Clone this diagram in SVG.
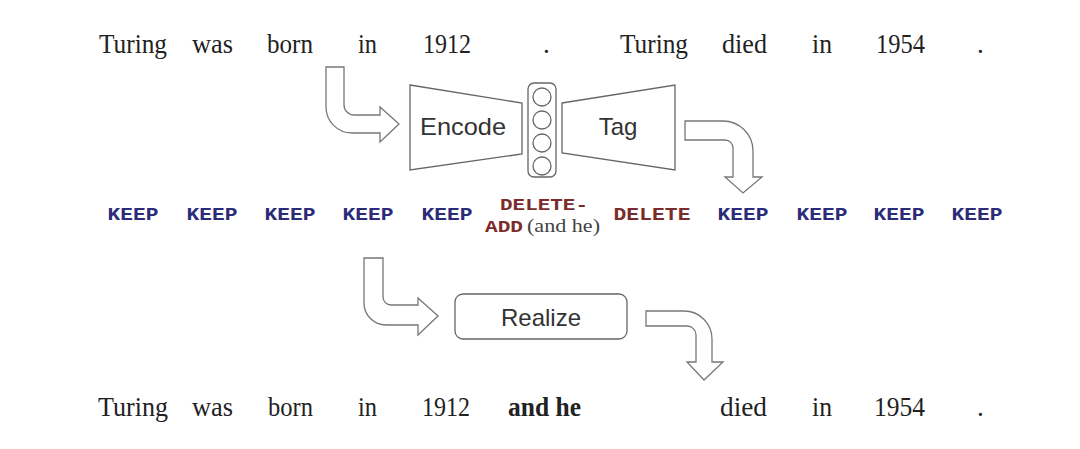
<svg xmlns="http://www.w3.org/2000/svg" width="1080" height="449" viewBox="0 0 1080 449">
<style>
.w{font-family:"Liberation Serif","Times New Roman",serif;font-size:27px;fill:#222}
.b{font-weight:bold}
.k{font-family:"Liberation Mono","Courier New",monospace;font-size:19px;font-weight:bold;fill:#2b2b78}
.d{font-family:"Liberation Mono","Courier New",monospace;font-size:19px;font-weight:bold;fill:#7a2c2c}
.d2{font-size:17px}
.p{font-family:"Liberation Serif","Times New Roman",serif;font-size:19px;fill:#444}
.lbl{font-family:"Liberation Sans",Arial,sans-serif;font-size:24px;fill:#333}
.sh{fill:#fff;stroke:#666;stroke-width:1.3}
.ar{fill:#fff;stroke:#777;stroke-width:1.3;stroke-linejoin:miter}
</style>
<rect width="1080" height="449" fill="#fff"/>
<g id="source">
<text class="w" x="99" y="53" textLength="68" lengthAdjust="spacingAndGlyphs">Turing</text>
<text class="w" x="192" y="53" textLength="41" lengthAdjust="spacingAndGlyphs">was</text>
<text class="w" x="267" y="53" textLength="46" lengthAdjust="spacingAndGlyphs">born</text>
<text class="w" x="358" y="53" textLength="19" lengthAdjust="spacingAndGlyphs">in</text>
<text class="w" x="423" y="53" textLength="48" lengthAdjust="spacingAndGlyphs">1912</text>
<text class="w" x="543" y="53">.</text>
<text class="w" x="620" y="53" textLength="68" lengthAdjust="spacingAndGlyphs">Turing</text>
<text class="w" x="722" y="53" textLength="45" lengthAdjust="spacingAndGlyphs">died</text>
<text class="w" x="812" y="53" textLength="20" lengthAdjust="spacingAndGlyphs">in</text>
<text class="w" x="876" y="53" textLength="49" lengthAdjust="spacingAndGlyphs">1954</text>
<text class="w" x="977" y="53">.</text>
</g>
<g id="encode">
<polygon class="sh" points="410,85 522,103 522,154 410,170"/>
<text class="lbl" x="420" y="135" textLength="86" lengthAdjust="spacingAndGlyphs">Encode</text>
</g>
<g id="bottleneck">
<rect class="sh" x="528" y="83" width="28" height="94" rx="6"/>
<circle class="sh" cx="542" cy="97" r="9"/>
<circle class="sh" cx="542" cy="120" r="9"/>
<circle class="sh" cx="542" cy="143" r="9"/>
<circle class="sh" cx="542" cy="166" r="9"/>
</g>
<g id="tag">
<polygon class="sh" points="562,103 675,85 675,170 562,153"/>
<text class="lbl" x="618" y="135" text-anchor="middle">Tag</text>
</g>
<g id="tags">
<text class="k" x="133" y="220" text-anchor="middle" textLength="51" lengthAdjust="spacingAndGlyphs">KEEP</text>
<text class="k" x="212" y="220" text-anchor="middle" textLength="51" lengthAdjust="spacingAndGlyphs">KEEP</text>
<text class="k" x="290" y="220" text-anchor="middle" textLength="51" lengthAdjust="spacingAndGlyphs">KEEP</text>
<text class="k" x="368" y="220" text-anchor="middle" textLength="51" lengthAdjust="spacingAndGlyphs">KEEP</text>
<text class="k" x="447" y="220" text-anchor="middle" textLength="51" lengthAdjust="spacingAndGlyphs">KEEP</text>
<text class="d d2" x="500" y="210" textLength="88" lengthAdjust="spacingAndGlyphs">DELETE-</text>
<text class="d d2" x="485" y="232" textLength="38" lengthAdjust="spacingAndGlyphs">ADD</text>
<text class="p" x="527" y="232" textLength="73" lengthAdjust="spacingAndGlyphs">(and he)</text>
<text class="d" x="652" y="220" text-anchor="middle" textLength="77" lengthAdjust="spacingAndGlyphs">DELETE</text>
<text class="k" x="743" y="220" text-anchor="middle" textLength="51" lengthAdjust="spacingAndGlyphs">KEEP</text>
<text class="k" x="822" y="220" text-anchor="middle" textLength="51" lengthAdjust="spacingAndGlyphs">KEEP</text>
<text class="k" x="899" y="220" text-anchor="middle" textLength="51" lengthAdjust="spacingAndGlyphs">KEEP</text>
<text class="k" x="977" y="220" text-anchor="middle" textLength="51" lengthAdjust="spacingAndGlyphs">KEEP</text>
</g>
<g id="realize">
<rect class="sh" x="455" y="294" width="172" height="45" rx="8"/>
<text class="lbl" x="541" y="326" text-anchor="middle">Realize</text>
</g>
<g id="output">
<text class="w" x="98" y="416" textLength="70" lengthAdjust="spacingAndGlyphs">Turing</text>
<text class="w" x="192" y="416" textLength="41" lengthAdjust="spacingAndGlyphs">was</text>
<text class="w" x="268" y="416" textLength="45" lengthAdjust="spacingAndGlyphs">born</text>
<text class="w" x="358" y="416" textLength="19" lengthAdjust="spacingAndGlyphs">in</text>
<text class="w" x="422" y="416" textLength="48" lengthAdjust="spacingAndGlyphs">1912</text>
<text class="w b" x="508" y="416" textLength="73" lengthAdjust="spacingAndGlyphs">and he</text>
<text class="w" x="720" y="416" textLength="47" lengthAdjust="spacingAndGlyphs">died</text>
<text class="w" x="812" y="416" textLength="20" lengthAdjust="spacingAndGlyphs">in</text>
<text class="w" x="874" y="416" textLength="51" lengthAdjust="spacingAndGlyphs">1954</text>
<text class="w" x="977" y="416">.</text>
</g>
<g id="connectors">
<path class="ar" d="M326,67 L344,67 L344,105 A10,10 0 0 0 354,115 L380,115 L380,107 L399,124 L380,142 L380,133 L352,133 A26,26 0 0 1 326,107 Z"/>
<path class="ar" d="M685,121 L723,121 A30,30 0 0 1 753,151 L753,177 L762,177 L743,193 L725,177 L733,177 L733,148 A8,8 0 0 0 725,140 L685,140 Z"/>
<path class="ar" d="M364,258 L383,258 L383,297 A8,8 0 0 0 391,305 L418,305 L418,298 L438,316 L418,335 L418,325 L386,325 A22,22 0 0 1 364,303 Z"/>
<path class="ar" d="M646,311 L684,311 A28,28 0 0 1 712,339 L712,362 L723,362 L704,380 L687,362 L696,362 L696,335 A9,9 0 0 0 687,326 L646,326 Z"/>
</g>
</svg>
